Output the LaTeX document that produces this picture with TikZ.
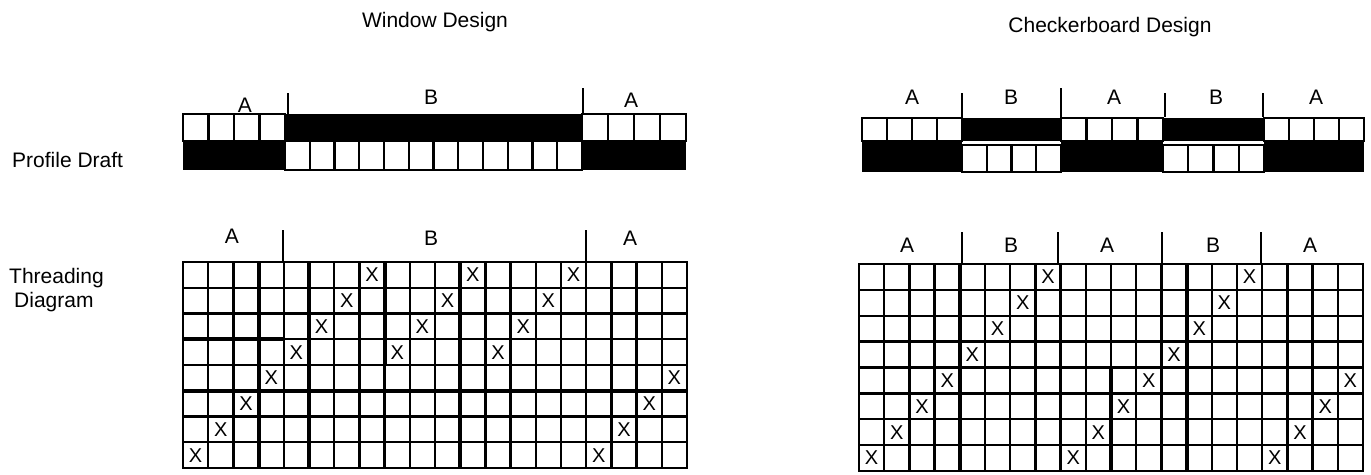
\documentclass[tikz,border=0pt]{standalone}
\usepackage{fontspec}
\setmainfont{Liberation Sans}
\begin{document}
\begin{tikzpicture}[x=1pt,y=-1pt,font=\fontsize{21}{25}\selectfont,
  lbl/.style={inner sep=0pt,anchor=base},
  cellline/.style={line width=2.3pt},
  heavyline/.style={line width=3.8pt},
  sepline/.style={line width=2.5pt},
  xmark/.style={inner sep=0pt,font=\fontsize{20}{24}\selectfont}]
\useasboundingbox (0,0) rectangle (1371,474);

% titles and side labels
\node[lbl] (t1) at (435,27) {Window\ Design};
\node[lbl] (t2) at (1110,32) {Checkerboard Design};
\node[lbl,anchor=base west] (pd) at (12,167) {Profile Draft};
\node[lbl,anchor=base west] (td1) at (9,283) {Threading};
\node[lbl,anchor=base west] (td2) at (14,307) {Diagram};

% ---------- Window design: profile draft ----------
\foreach \i in {0,...,3}
  \draw[cellline] ({183+25.5*\i},114) rectangle ({183+25.5*(\i+1)},141);
\fill (183,141) rectangle (285,170);
\fill (285,114) rectangle (582,141);
\foreach \i in {0,...,11}
  \draw[cellline] ({285+24.75*\i},141) rectangle ({285+24.75*(\i+1)},170);
\foreach \i in {0,...,3}
  \draw[cellline] ({582+26*\i},114) rectangle ({582+26*(\i+1)},141);
\fill (582,141) rectangle (686,170);
\draw[sepline] (288,93) -- (288,114);
\draw[sepline] (583,88) -- (583,114);
\node[lbl] (wpa1) at (245,112) {A};
\node[lbl] (wpb) at (431,104) {B};
\node[lbl] (wpa2) at (631,107) {A};

% ---------- Window design: threading ----------
\foreach \i in {0,...,20}
  \draw[cellline] ({183+25.2*\i},262) -- ({183+25.2*\i},468);
\foreach \j in {0,...,8}
  \draw[cellline] (183,{262+25.75*\j}) -- (687,{262+25.75*\j});
\draw[cellline] (183,262) rectangle (687,468);
\draw[heavyline] (258.6,262) -- (258.6,468);
\draw[heavyline] (309.0,262) -- (309.0,468);
\draw[heavyline] (384.6,262) -- (384.6,365);
\draw[heavyline] (460.2,262) -- (460.2,468);
\draw[heavyline] (611.4,365) -- (611.4,468);
\draw[heavyline] (183,339.25) -- (283.8,339.25);
\draw[heavyline] (183,390.75) -- (687,390.75);
\draw[sepline] (283,230) -- (283,262);
\draw[sepline] (586,230) -- (586,262);
\node[lbl] (wta1) at (232,243) {A};
\node[lbl] (wtb) at (431,245) {B};
\node[lbl] (wta2) at (630,245) {A};
\foreach \c/\r in {0/7,1/6,2/5,3/4,4/3,5/2,6/1,7/0,8/3,9/2,10/1,11/0,12/3,13/2,14/1,15/0,16/7,17/6,18/5,19/4}
  \node[xmark] (wx\c) at ({183+25.2*(\c+0.5)},{262+25.75*(\r+0.5)}) {X};

% ---------- Checkerboard design: profile draft ----------
\foreach \a/\b in {862/962,1061/1163,1264/1364}{
  \foreach \i in {0,...,3}
    \draw[cellline] ({\a+(\b-\a)/4*\i},118) rectangle ({\a+(\b-\a)/4*(\i+1)},141);
  \fill (\a,141) rectangle (\b,172);
}
\foreach \a/\b in {962/1061,1163/1264}{
  \fill (\a,118) rectangle (\b,141);
  \foreach \i in {0,...,3}
    \draw[cellline] ({\a+(\b-\a)/4*\i},145) rectangle ({\a+(\b-\a)/4*(\i+1)},172);
}
\draw[sepline] (962,93) -- (962,117);
\draw[sepline] (1061,88) -- (1061,117);
\draw[sepline] (1165,93) -- (1165,117);
\draw[sepline] (1263,93) -- (1263,117);
\node[lbl] (cpa1) at (912,104) {A};
\node[lbl] (cpb1) at (1011,104) {B};
\node[lbl] (cpa2) at (1114,104) {A};
\node[lbl] (cpb2) at (1216,104) {B};
\node[lbl] (cpa3) at (1316,104) {A};

% ---------- Checkerboard design: threading ----------
\foreach \i in {0,...,20}
  \draw[cellline] ({859+25.2*\i},264) -- ({859+25.2*\i},471);
\foreach \j in {0,...,8}
  \draw[cellline] (859,{264+25.875*\j}) -- (1363,{264+25.875*\j});
\draw[cellline] (859,264) rectangle (1363,471);
\draw[heavyline] (959.8,264) -- (959.8,471);
\draw[heavyline] (1111.0,367.5) -- (1111.0,471);
\draw[heavyline] (1186.6,264) -- (1186.6,471);
\draw[heavyline] (859,367.5) -- (1363,367.5);
\draw[sepline] (962,232) -- (962,264);
\draw[sepline] (1058,232) -- (1058,264);
\draw[sepline] (1162,232) -- (1162,264);
\draw[sepline] (1261,232) -- (1261,264);
\node[lbl] (cta1) at (907,252) {A};
\node[lbl] (ctb1) at (1011,252) {B};
\node[lbl] (cta2) at (1107,252) {A};
\node[lbl] (ctb2) at (1213,252) {B};
\node[lbl] (cta3) at (1310,252) {A};
\foreach \c/\r in {0/7,1/6,2/5,3/4,4/3,5/2,6/1,7/0,8/7,9/6,10/5,11/4,12/3,13/2,14/1,15/0,16/7,17/6,18/5,19/4}
  \node[xmark] (cx\c) at ({859+25.2*(\c+0.5)},{264+25.875*(\r+0.5)}) {X};
\end{tikzpicture}
\end{document}
